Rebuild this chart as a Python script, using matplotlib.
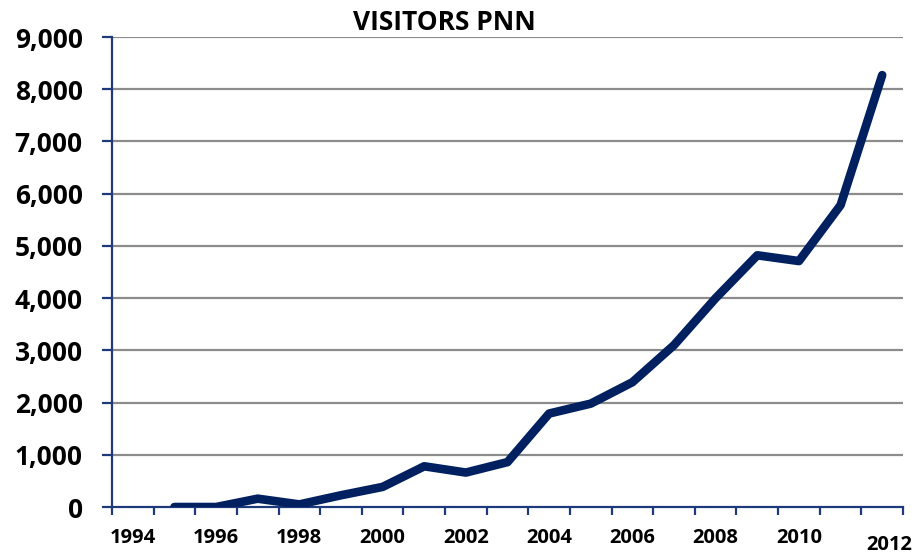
import numpy as np
import matplotlib.pyplot as plt
from matplotlib.ticker import FuncFormatter
from matplotlib.transforms import ScaledTranslation

years = [1995, 1996, 1997, 1998, 1999, 2000, 2001, 2002, 2003,
         2004, 2005, 2006, 2007, 2008, 2009, 2010, 2011, 2012]
visitors = [0, 0, 160, 50, 225, 385, 780, 660, 860,
            1790, 1980, 2390, 3100, 4000, 4820, 4710, 5780, 8270]
year_labels = [1994, 1996, 1998, 2000, 2002, 2004, 2006, 2008, 2010, 2012]
y_ticks = [0, 1000, 2000, 3000, 4000, 5000, 6000, 7000, 8000, 9000]

plt.rcParams['font.family'] = ['Open Sans', 'DejaVu Sans']
navy = '#002060'
axis_col = '#1F3A7A'

fig = plt.figure(figsize=(9.15, 5.54), dpi=100)
ax = fig.add_axes([0.1224, 0.0848, 0.8645, 0.8484])

ax.plot(years, visitors, color=navy, lw=6.2, solid_capstyle='round',
        solid_joinstyle='round', zorder=3)

ax.set_xlim(1993.5, 2012.5)
ax.set_ylim(0, 9000)

# y axis
ax.set_yticks(y_ticks)
ax.yaxis.set_major_formatter(FuncFormatter(lambda v, p: f'{int(v):,}'))
for y in y_ticks[1:]:
    ax.axhline(y, color='#8C8C8C', lw=1.6, zorder=1)
ax.tick_params(axis='y', length=7, width=1.6, color=axis_col, pad=14,
               labelsize=19)
for lab in ax.get_yticklabels():
    lab.set_fontweight('bold')

# x axis: tick marks between categories, labels on every other year
ax.set_xticks(year_labels)
ax.set_xticklabels([str(y) for y in year_labels], fontsize=14.5,
                   fontweight='bold')
ax.set_xticks(np.arange(1993.5, 2013, 1), minor=True)
ax.tick_params(axis='x', which='major', length=0, pad=15)
ax.tick_params(axis='x', which='minor', length=6, width=1.6, color=axis_col)
last = ax.xaxis.get_major_ticks()[-1]
last.set_pad(20)
last.label1.set_transform(last.label1.get_transform() +
                          ScaledTranslation(0.07, 0, fig.dpi_scale_trans))

for s in ['top', 'right']:
    ax.spines[s].set_visible(False)
for s in ['left', 'bottom']:
    ax.spines[s].set_color(axis_col)
    ax.spines[s].set_linewidth(1.6)

fig.text(0.486, 0.960, 'VISITORS PNN', ha='center', va='center',
         fontsize=19, fontweight='bold')

fig.savefig('out.png', dpi=100)
